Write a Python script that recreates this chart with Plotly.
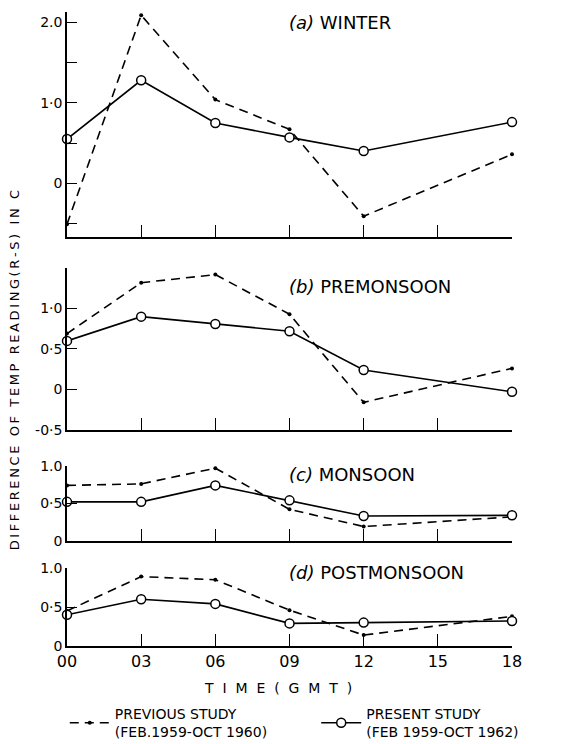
import plotly.graph_objects as go
from plotly.subplots import make_subplots

hours = [0, 3, 6, 9, 12, 18]
tick_vals = [0, 3, 6, 9, 12, 15, 18]
tick_text = ["00", "03", "06", "09", "12", "15", "18"]

winter_prev = [-0.51, 2.09, 1.04, 0.67, -0.41, 0.36]
winter_pres = [0.55, 1.28, 0.75, 0.57, 0.40, 0.76]
premon_prev = [0.69, 1.32, 1.42, 0.93, -0.16, 0.26]
premon_pres = [0.60, 0.90, 0.81, 0.72, 0.24, -0.03]
mon_prev = [0.74, 0.76, 0.97, 0.42, 0.19, 0.32]
mon_pres = [0.52, 0.52, 0.74, 0.54, 0.33, 0.34]
post_prev = [0.45, 0.89, 0.85, 0.46, 0.14, 0.38]
post_pres = [0.40, 0.60, 0.54, 0.29, 0.30, 0.32]

panel_titles = ["<i>(a)</i> WINTER", "<i>(b)</i> PREMONSOON", "<i>(c)</i> MONSOON", "<i>(d)</i> POSTMONSOON"]
prev_series = [winter_prev, premon_prev, mon_prev, post_prev]
pres_series = [winter_pres, premon_pres, mon_pres, post_pres]
y_title = "DIFFERENCE OF TEMP READING(R-S) IN C"
x_title = "T  I  M  E  (  G  M  T  )"

FONT = "DejaVu Sans"
fig = make_subplots(rows=4, cols=1)

for i in range(4):
    r = i + 1
    fig.add_trace(go.Scatter(
        x=hours, y=prev_series[i], mode="lines+markers",
        line=dict(color="black", width=1.6, dash="9px,6px"),
        marker=dict(symbol="circle", size=4, color="black"),
        name="PREVIOUS STUDY<br>(FEB.1959-OCT 1960)",
        legend="legend", showlegend=(i == 0), cliponaxis=False), row=r, col=1)
    fig.add_trace(go.Scatter(
        x=hours, y=pres_series[i], mode="lines+markers",
        line=dict(color="black", width=1.6),
        marker=dict(symbol="circle", size=9, color="white", line=dict(color="black", width=1.5)),
        name="PRESENT STUDY<br>(FEB 1959-OCT 1962)",
        legend="legend2", showlegend=(i == 0), cliponaxis=False), row=r, col=1)

# domains (paper fractions)
domains = [(0.645, 1.0), (0.341, 0.596), (0.166, 0.284), (0.0, 0.123)]
ranges = [(-0.67, 2.13), (-0.5, 1.5), (0, 1.0), (0, 1.0)]
ytickvals = [
    [-0.5, 0, 0.5, 1.0, 1.5, 2.0],
    [-0.5, 0, 0.5, 1.0, 1.5],
    [0, 0.5, 1.0],
    [0, 0.5, 1.0],
]
yticktext = [
    ["", "0", "", "1·0", "", "2.0"],
    ["-0·5", "0", "0·5", "1·0", ""],
    ["0", "0·5", "1.0"],
    ["0", "0·5", "1.0"],
]
title_y = [2.0, 1.27, 0.88, 0.94]

for i in range(4):
    r = i + 1
    fig.update_yaxes(row=r, col=1, domain=list(domains[i]), range=list(ranges[i]),
                     tickvals=ytickvals[i], ticktext=yticktext[i],
                     ticks="inside", ticklen=10, tickwidth=1.3, tickcolor="black",
                     showline=True, linecolor="black", linewidth=1.5,
                     showgrid=False, zeroline=False, automargin=False,
                     tickfont=dict(family=FONT, size=14, color="black"))
    fig.update_xaxes(row=r, col=1, range=[0, 18], tickvals=tick_vals, ticktext=tick_text,
                     ticks="inside", ticklen=12, tickwidth=1.3, tickcolor="black",
                     showline=True, linecolor="black", linewidth=1.5,
                     showgrid=False, zeroline=False, showticklabels=(r == 4),
                     automargin=False,
                     tickfont=dict(family=FONT, size=16, color="black"))
    xref = "x" if r == 1 else f"x{r}"
    yref = "y" if r == 1 else f"y{r}"
    fig.add_annotation(x=8.9, y=title_y[i], xref=xref, yref=yref, text=panel_titles[i],
                       showarrow=False, xanchor="left", yanchor="middle",
                       font=dict(family=FONT, size=18, color="black"))

# x-axis title
fig.add_annotation(xref="paper", yref="paper", x=0.474, y=-0.066,
                   text=x_title, showarrow=False, xanchor="center", yanchor="middle",
                   font=dict(family=FONT, size=14, color="black"))

# y-axis title (letter-spaced)
fig.add_annotation(xref="paper", yref="paper", x=-0.119, y=0.435,
                   text="\u2009".join(y_title), textangle=-90,
                   showarrow=False, xanchor="center", yanchor="middle",
                   font=dict(family=FONT, size=13, color="black"))

legend_style = dict(orientation="h", yanchor="top", xanchor="left",
                    font=dict(family=FONT, size=14, color="black"),
                    itemwidth=40, bgcolor="rgba(0,0,0,0)")

fig.update_layout(
    width=575, height=744,
    margin=dict(l=59, r=71, t=4, b=106, autoexpand=False),
    paper_bgcolor="white", plot_bgcolor="white",
    font=dict(family=FONT, color="black"),
    legend=dict(x=-0.005, y=-0.082, **legend_style),
    legend2=dict(x=0.56, y=-0.082, **legend_style),
)

fig.write_html("out.html")
